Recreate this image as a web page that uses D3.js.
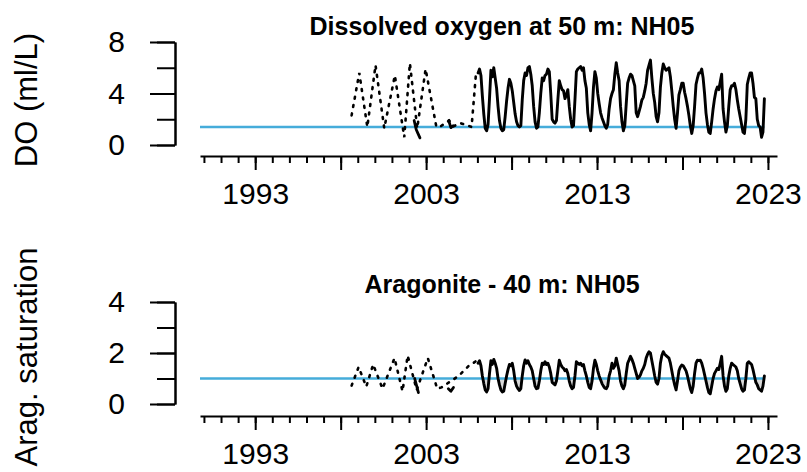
<!DOCTYPE html>
<html>
<head>
<meta charset="utf-8">
<script src="https://cdn.jsdelivr.net/npm/d3@7"></script>
<style>
  html, body { margin: 0; padding: 0; background: #fff; }
  svg { display: block; font-family: "Liberation Sans", Arial, Helvetica, sans-serif; }
</style>
</head>
<body>
<svg id="chart" width="807" height="472"></svg>
<script>
// ---------------- data ----------------
// Year ticks on the time axis
const minorYears = d3.range(1990, 2024);
const majorYears = [1993, 1998, 2003, 2008, 2013, 2018, 2023];
const labelYears = [1993, 2003, 2013, 2023];

// Thresholds drawn as horizontal reference lines
const doThreshold = 1.4;     // hypoxia, ml/L
const aragThreshold = 1.0;   // aragonite saturation

// Monthly record (solid line), first value = January 2006
const monthlyStartYear = 2006;
const doMonthly = [
  5.6, 5.9, 5.4, 3.8, 2.4, 1.3, 1.1, 1.6, 3.6, 5.8, 5.3, 6.0,   // 2006
  5.2, 4.4, 3.0, 1.9, 1.3, 1.1, 1.2, 2.2, 3.4, 4.4, 5.1, 4.8,   // 2007
  4.2, 3.3, 2.4, 1.8, 1.5, 1.4, 1.5, 3.5, 5.0, 5.6, 5.4, 6.0,   // 2008
  6.1, 5.5, 4.6, 3.0, 1.8, 1.3, 1.4, 2.5, 4.0, 5.2, 5.0, 5.4,   // 2009
  5.5, 5.9, 5.7, 4.0, 2.0, 1.8, 1.7, 1.9, 3.5, 5.0, 4.6, 4.3,   // 2010
  4.2, 3.6, 3.9, 4.3, 3.0, 2.0, 1.4, 1.5, 3.5, 5.7, 5.9, 6.0,   // 2011
  6.1, 5.8, 6.0, 5.0, 4.4, 2.5, 1.6, 1.1, 2.5, 4.5, 5.7, 5.2,   // 2012
  4.0, 3.2, 2.5, 2.1, 1.8, 1.5, 1.3, 1.6, 2.8, 3.6, 4.0, 4.3,   // 2013
  5.5, 6.4, 5.6, 5.0, 3.0, 1.8, 1.1, 1.5, 3.2, 4.8, 5.2, 5.5,   // 2014
  5.4, 5.0, 4.6, 2.5, 2.2, 2.6, 3.0, 3.5, 3.7, 4.2, 4.8, 5.8,   // 2015
  6.2, 6.6, 5.2, 4.0, 3.3, 2.2, 1.8, 2.5, 4.5, 5.6, 6.3, 6.0,   // 2016
  5.8, 5.9, 6.0, 5.3, 4.2, 3.0, 2.0, 1.3, 2.5, 3.9, 4.3, 4.8,   // 2017
  4.8, 4.1, 3.6, 3.0, 2.3, 1.5, 0.9, 1.5, 3.0, 4.7, 5.2, 5.6,   // 2018
  5.6, 5.9, 5.2, 4.0, 2.5, 1.6, 1.0, 0.9, 1.8, 2.8, 3.6, 4.2,   // 2019
  4.5, 4.3, 4.9, 5.5, 2.8, 1.8, 1.0, 1.5, 3.0, 4.3, 4.6, 4.6,   // 2020
  4.8, 4.3, 3.5, 2.8, 2.2, 1.6, 1.0, 0.9, 2.0, 4.7, 5.2, 5.6,   // 2021
  5.6, 4.8, 3.7, 3.6, 2.0, 1.5, 1.4, 0.6, 1.0, 3.6              // 2022
];
const aragMonthly = [
  1.6, 1.7, 1.5, 1.1, 0.8, 0.55, 0.47, 0.6, 1.2, 1.7, 1.55, 1.75,   // 2006
  1.6, 1.4, 1.0, 0.75, 0.55, 0.47, 0.5, 0.8, 1.1, 1.35, 1.55, 1.5,  // 2007
  1.6, 1.3, 0.9, 0.7, 0.6, 0.53, 0.6, 1.1, 1.5, 1.73, 1.6, 1.7,     // 2008
  1.55, 1.45, 1.3, 1.0, 0.7, 0.6, 0.62, 0.9, 1.3, 1.6, 1.55, 1.66,  // 2009
  1.55, 1.6, 1.45, 1.2, 0.85, 0.8, 0.75, 0.9, 1.3, 1.72, 1.55, 1.45,// 2010
  1.4, 1.3, 1.35, 1.2, 0.9, 0.7, 0.6, 0.65, 1.1, 1.66, 1.6, 1.55,   // 2011
  1.6, 1.5, 1.55, 1.3, 1.1, 0.85, 0.65, 0.6, 0.9, 1.4, 1.72, 1.55,  // 2012
  1.3, 1.1, 0.95, 0.8, 0.7, 0.62, 0.6, 0.7, 1.1, 1.3, 1.6, 1.4,     // 2013
  1.5, 1.8, 1.55, 1.3, 0.9, 0.7, 0.6, 0.75, 1.2, 1.6, 1.73, 1.87,   // 2014
  1.75, 1.6, 1.4, 1.2, 1.0, 1.05, 1.15, 1.3, 1.4, 1.55, 1.8, 1.95,  // 2015
  2.05, 2.0, 1.7, 1.4, 1.1, 0.85, 0.78, 1.0, 1.6, 1.9, 2.05, 1.95,  // 2016
  1.9, 1.85, 1.8, 1.6, 1.3, 1.0, 0.75, 0.55, 0.9, 1.3, 1.45, 1.53,  // 2017
  1.5, 1.4, 1.3, 1.1, 0.85, 0.6, 0.45, 0.7, 1.2, 1.6, 1.72, 1.7,    // 2018
  1.72, 1.6, 1.4, 1.15, 0.9, 0.65, 0.45, 0.4, 0.7, 1.0, 1.2, 1.3,   // 2019
  1.4, 1.35, 1.6, 1.87, 1.1, 0.7, 0.5, 0.6, 1.1, 1.4, 1.6, 1.55,    // 2020
  1.5, 1.45, 1.3, 1.0, 0.8, 0.6, 0.5, 0.55, 1.0, 1.6, 1.66, 1.6,    // 2021
  1.55, 1.35, 1.1, 0.85, 0.75, 0.6, 0.55, 0.5, 0.7, 1.1             // 2022
];

// Earlier, sparser record (dotted line)
const doEarlyYears  = [1998.64, 1999.09, 1999.56, 2000.04, 2000.55, 2001.17, 2001.72, 2002.05, 2002.48, 2002.97, 2003.60, 2003.85, 2004.35, 2004.60, 2005.00, 2005.35, 2005.66, 2005.92];
const doEarlyValues = [2.3, 5.6, 1.4, 6.2, 1.3, 5.4, 0.6, 6.35, 1.3, 5.9, 1.4, 1.45, 1.9, 1.45, 1.7, 1.55, 1.4, 5.6];
const aragEarlyYears  = [1998.64, 1999.05, 1999.50, 1999.90, 2000.45, 2001.15, 2001.62, 2001.92, 2002.45, 2003.10, 2003.65, 2003.90, 2004.90, 2005.50, 2005.75, 2005.95];
const aragEarlyValues = [0.72, 1.45, 0.68, 1.55, 0.6, 1.8, 0.5, 1.9, 0.55, 1.8, 0.6, 0.65, 1.1, 1.5, 1.6, 1.7];

// Short solid fragments within the early record
const doFragYears   = [[2002.30, 2002.42, 2002.52, 2002.64], [2004.32, 2004.45, 2004.58]];
const doFragValues  = [[1.9, 1.2, 0.9, 0.55], [1.9, 1.35, 1.5]];
const aragFragYears  = [[2002.33, 2002.45, 2002.55], [2004.30, 2004.45, 2004.60]];
const aragFragValues = [[1.0, 0.7, 0.45], [0.6, 0.5, 0.65]];

// ---------------- drawing ----------------
const svg = d3.select("#chart");
const x = d3.scaleLinear().domain([1989.77, 2023.53]).range([200, 777]);
const monthTime = i => monthlyStartYear + (i + 0.5) / 12;
const lastTime = Math.max(monthTime(doMonthly.length - 1), monthTime(aragMonthly.length - 1));

const panels = [
  {
    title: "Dissolved oxygen at 50 m: NH05", titleY: 35,
    ylab: "DO (ml/L)", ylabY: 100, ylabSize: 31,
    yDomain: [0, 8], yRange: [145, 42], yTicks: [0, 2, 4, 6, 8], yLabels: [0, 4, 8],
    axisY: 156,
    threshold: doThreshold, monthly: doMonthly,
    earlyYears: doEarlyYears, earlyValues: doEarlyValues,
    fragYears: doFragYears, fragValues: doFragValues
  },
  {
    title: "Aragonite - 40 m: NH05", titleY: 293,
    ylab: "Arag. saturation", ylabY: 357, ylabSize: 31,
    yDomain: [0, 4], yRange: [404, 302], yTicks: [0, 1, 2, 3, 4], yLabels: [0, 2, 4],
    axisY: 416,
    threshold: aragThreshold, monthly: aragMonthly,
    earlyYears: aragEarlyYears, earlyValues: aragEarlyValues,
    fragYears: aragFragYears, fragValues: aragFragValues
  }
];

panels.forEach(p => {
  const y = d3.scaleLinear().domain(p.yDomain).range(p.yRange);
  const g = svg.append("g");

  // title
  g.append("text")
    .attr("x", 502).attr("y", p.titleY)
    .attr("text-anchor", "middle")
    .attr("font-size", 25).attr("font-weight", "bold")
    .attr("fill", "#000")
    .text(p.title);

  // y label
  g.append("text")
    .attr("transform", `translate(37,${p.ylabY}) rotate(-90)`)
    .attr("text-anchor", "middle")
    .attr("font-size", p.ylabSize)
    .attr("fill", "#000")
    .text(p.ylab);

  // y axis: short unlabeled ticks + long labelled ticks
  const yMinor = g.append("g").attr("transform", "translate(175,0)")
    .call(d3.axisLeft(y).tickValues(p.yTicks).tickSize(18).tickSizeOuter(0).tickFormat(""));
  const yMajor = g.append("g").attr("transform", "translate(175,0)")
    .call(d3.axisLeft(y).tickValues(p.yLabels).tickSize(25).tickSizeOuter(0).tickPadding(25).tickFormat(d3.format("d")));
  [yMinor, yMajor].forEach(a => {
    a.selectAll("path, line").attr("stroke", "#000").attr("stroke-width", 2);
    a.selectAll("text").attr("font-size", 30).attr("fill", "#000")
      .attr("font-family", '"Liberation Sans", Arial, sans-serif');
  });

  // x axis: yearly ticks, five-year longer ticks, decade labels
  const xMinor = g.append("g").attr("transform", `translate(0,${p.axisY})`)
    .call(d3.axisBottom(x).tickValues(minorYears).tickSize(7).tickSizeOuter(0).tickFormat(""));
  const xMajor = g.append("g").attr("transform", `translate(0,${p.axisY})`)
    .call(d3.axisBottom(x).tickValues(majorYears).tickSize(14).tickSizeOuter(0)
      .tickFormat(d => labelYears.includes(d) ? String(d) : ""));
  [xMinor, xMajor].forEach(a => {
    a.selectAll("path, line").attr("stroke", "#000").attr("stroke-width", 2);
    a.selectAll("text").attr("font-size", 30).attr("fill", "#000")
      .attr("font-family", '"Liberation Sans", Arial, sans-serif')
      .attr("y", 48).attr("dy", 0);
  });
  xMajor.select(".domain").remove();

  const monthlyPts = p.monthly.map((v, i) => [monthTime(i), v]);

  // grey shading where the monthly record falls below the threshold
  const below = d3.area()
    .x(d => x(d[0]))
    .y0(y(p.threshold))
    .y1(d => y(Math.min(d[1], p.threshold)));
  g.append("path").datum(monthlyPts)
    .attr("d", below).attr("fill", "#d9d9d9").attr("stroke", "none");

  // threshold line
  g.append("line")
    .attr("x1", x.range()[0]).attr("x2", x(lastTime))
    .attr("y1", y(p.threshold)).attr("y2", y(p.threshold))
    .attr("stroke", "#45acda").attr("stroke-width", 2.5);

  const line = d3.line().x(d => x(d[0])).y(d => y(d[1]));

  // early dotted record
  const earlyPts = p.earlyYears.map((t, i) => [t, p.earlyValues[i]]);
  g.append("path").datum(earlyPts)
    .attr("d", line).attr("fill", "none").attr("stroke", "#000")
    .attr("stroke-width", 2.6).attr("stroke-linecap", "round")
    .attr("stroke-dasharray", "2,6.5");

  // solid fragments
  p.fragYears.forEach((ts, k) => {
    g.append("path").datum(ts.map((t, i) => [t, p.fragValues[k][i]]))
      .attr("d", line).attr("fill", "none").attr("stroke", "#000")
      .attr("stroke-width", 2.8).attr("stroke-linejoin", "round").attr("stroke-linecap", "round");
  });

  // monthly solid record
  g.append("path").datum(monthlyPts)
    .attr("d", line).attr("fill", "none").attr("stroke", "#000")
    .attr("stroke-width", 2.9).attr("stroke-linejoin", "round").attr("stroke-linecap", "round");
});
</script>
</body>
</html>
